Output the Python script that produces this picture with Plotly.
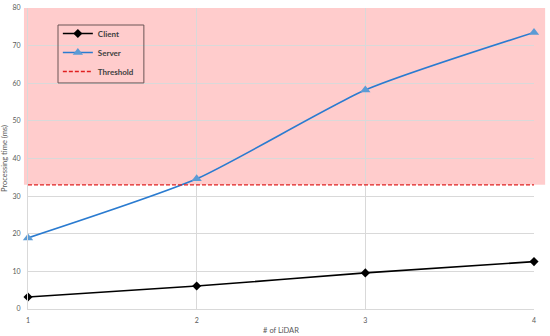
import plotly.graph_objects as go

lidar = [1, 2, 3, 4]
client = [3.2, 6.1, 9.6, 12.6]
server = [18.9, 34.6, 58.2, 73.5]
threshold = [33, 33, 33, 33]
y_ticks = [0, 10, 20, 30, 40, 50, 60, 70, 80]

FONT = "Lato"
fig = go.Figure()
fig.add_trace(go.Scatter(x=lidar, y=client, name="Client", mode="lines+markers",
                         line=dict(color="black", width=1.6, shape="spline", smoothing=0.6),
                         marker=dict(symbol="diamond", size=7, color="black"), cliponaxis=False))
fig.add_trace(go.Scatter(x=lidar, y=server, name="Server", mode="lines+markers",
                         line=dict(color="#2a7bd0", width=1.6, shape="spline", smoothing=0.6),
                         marker=dict(symbol="triangle-up", size=9, color="#5b9bd5"), cliponaxis=False))
fig.add_trace(go.Scatter(x=lidar, y=threshold, name="Threshold", mode="lines",
                         line=dict(color="#e02020", width=1.3, dash="4px,2px"), cliponaxis=False))

fig.add_shape(type="rect", xref="paper", yref="y", x0=-0.008, x1=1.022,
              y0=threshold[0], y1=80, fillcolor="#ffcccc", line=dict(width=0), layer="below")
# legend frame
fig.add_shape(type="rect", xref="paper", yref="paper", x0=0.0593, x1=0.229,
              y0=0.751, y1=0.9435, fillcolor="rgba(0,0,0,0)",
              line=dict(color="#6b5555", width=1), layer="above")

fig.update_layout(
    width=550, height=336,
    margin=dict(l=28, r=16, t=8, b=27),
    plot_bgcolor="white", paper_bgcolor="white",
    font=dict(family=FONT, size=8, color="#595959"),
    showlegend=True,
    legend=dict(x=0.059, y=0.9635, xanchor="left", yanchor="top",
                bgcolor="rgba(0,0,0,0)", borderwidth=0,
                font=dict(family=FONT, size=8, color="#404040", weight="bold"),
                itemwidth=30),
    xaxis=dict(range=[1, 4], tickvals=lidar, ticktext=[str(v) for v in lidar],
               automargin=False, showgrid=True, gridcolor="#d9d9d9", zeroline=False,
               showline=True, linecolor="#d9d9d9", ticklabelstandoff=5,
               tickfont=dict(size=7, color="#595959"),
               title=dict(text="# of LiDAR", font=dict(size=7.5, color="#595959"), standoff=4)),
    yaxis=dict(range=[0, 80], tickvals=y_ticks, showgrid=True, gridcolor="#d9d9d9",
               automargin=False, zeroline=False, showline=True, linecolor="#d9d9d9",
               ticklabelstandoff=5,
               tickfont=dict(size=7, color="#595959"),
               title=dict(text="Processing time (ms)", font=dict(size=7.5, color="#595959"), standoff=4)),
)
fig.write_html("out.html", config={"displayModeBar": False},
               post_script="document.body.style.margin='0px';")
